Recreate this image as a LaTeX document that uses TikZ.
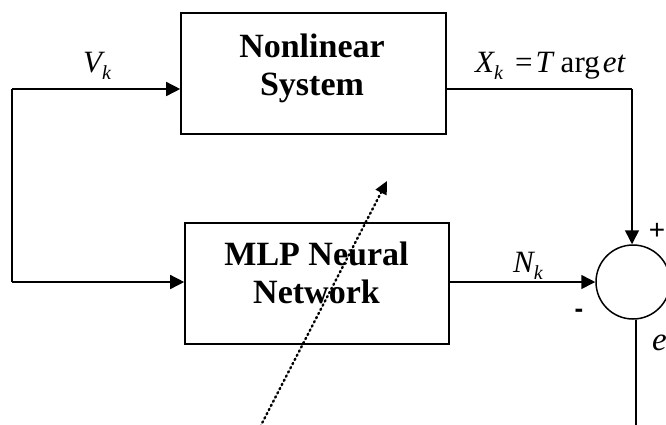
\documentclass[tikz,border=0pt]{standalone}
\usepackage{fontspec}
\setmainfont{Liberation Serif}
\newfontfamily\arialfont{Liberation Sans}
\usetikzlibrary{arrows.meta,calc}
\newcommand{\subk}{\raisebox{-7pt}{\fontsize{20}{20}\selectfont\itshape k}}
\begin{document}
\begin{tikzpicture}[x=1pt,y=-1pt,
  blk/.style={draw,line width=1.6pt,minimum width=265pt,minimum height=121pt,inner sep=0pt},
  blktext/.style={align=center,font=\fontsize{34}{38}\selectfont\bfseries,inner sep=0pt},
  wire/.style={line width=1.5pt},
  arr/.style={wire,-{Triangle[length=14pt,width=14pt]}},
  lbl/.style={font=\fontsize{31}{31}\selectfont,inner sep=0pt,anchor=base west},
  sumc/.style={draw,circle,line width=1.5pt,minimum size=74pt,inner sep=0pt}]
\useasboundingbox (0,0) rectangle (666,424);
% blocks
\node[blk] (sys) at (313.5,73.5) {};
\node[blktext] (systxt) at (312,68) {Nonlinear\\System};
\node[blk,minimum width=264pt] (nn) at (317,283.5) {};
\node[blktext] (nntxt) at (316.5,272.5) {MLP Neural\\Network};
\node[sumc] (sum) at (633,282) {};
% coordinates
\coordinate (a) at (12,89);
\coordinate (b) at (12,282);
\coordinate (xo) at (632,89);
\coordinate (eo) at (636,430);
\coordinate (w0) at (258,431);
\coordinate (w1) at (387,181);
% wires
\draw[arr] (a) -- (sys.west |- a);
\draw[wire] (a) -- (b);
\draw[arr] (b) -- (nn.west |- b);
\draw[wire] (sys.east |- xo) -- (xo);
\draw[arr] (xo) -- (xo |- sum.north);
\draw[arr] (nn.east |- sum.west) -- (sum.west);
\draw[wire] (sum.south -| eo) -- (eo);
\draw[line width=2.4pt,line cap=round,dash pattern=on 1.4pt off 3.3pt,-{Triangle[length=13pt,width=12pt]}] (w0) -- (w1);
% labels
\node[lbl] (vk) at (83,72) {\itshape V\subk};
\node[lbl] (xk) at (475,72) {\itshape X\subk\hspace{12pt}\upshape=\hspace{3pt}\itshape T\hspace{8pt}\upshape arg\hspace{3pt}\itshape et};
\node[lbl] (nk) at (513,272) {\itshape N\subk};
\node[font=\arialfont\fontsize{28}{28}\selectfont,inner sep=0pt] (plus) at (657,231) {+};
\node[font=\arialfont\fontsize{26}{26}\selectfont\bfseries,inner sep=0pt] (minus) at (579,313) {-};
\node[lbl,font=\fontsize{33}{33}\selectfont\itshape] (e) at (652,350) {e};
\end{tikzpicture}
\end{document}
